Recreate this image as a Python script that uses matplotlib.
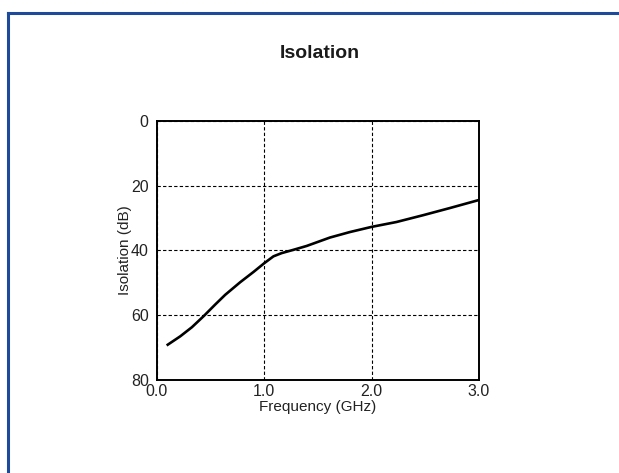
import matplotlib
matplotlib.use('Agg')
import matplotlib.pyplot as plt
from matplotlib.lines import Line2D

# curve
freq_ghz = [0.1, 0.217, 0.325, 0.434, 0.542, 0.635, 0.775, 0.9, 1.0, 1.085, 1.162,
            1.27, 1.394, 1.611, 1.797, 2.0, 2.231, 2.479, 2.727, 3.0]
isolation_db = [69.1, 66.5, 63.7, 60.3, 56.7, 53.7, 49.8, 46.6, 43.9, 41.8, 40.8,
                39.8, 38.6, 36.0, 34.3, 32.7, 31.2, 29.1, 26.9, 24.4]

x_ticks = [0.0, 1.0, 2.0, 3.0]
x_labels = ['0.0', '1.0', '2.0', '3.0']
y_ticks = [0, 20, 40, 60, 80]

plt.rcParams['font.family'] = ['Liberation Sans', 'DejaVu Sans']

W, H = 619, 473
fig = plt.figure(figsize=(W / 100, H / 100), dpi=100)

# blue frame (only top and left edges are visible)
blue = '#1d4a9a'
fig.add_artist(Line2D([7.5 / W, 1.0], [1 - 13.5 / H, 1 - 13.5 / H], color=blue, lw=2.2,
                      transform=fig.transFigure))
fig.add_artist(Line2D([7.5 / W, 7.5 / W], [0.0, 1 - 13.5 / H], color=blue, lw=2.2,
                      transform=fig.transFigure))

fig.text(320 / W, 1 - 54 / H, 'Isolation', ha='center', va='center', fontsize=14,
         fontweight='semibold', color='#1a1a1a')

ax = fig.add_axes([157 / W, 1 - 380 / H, (479 - 157) / W, (380 - 121) / H])
ax.plot(freq_ghz, isolation_db, color='black', lw=1.9)
ax.set_xlim(0, 3)
ax.set_ylim(80, 0)
ax.set_xticks(x_ticks)
ax.set_xticklabels(x_labels)
ax.set_yticks(y_ticks)
ax.tick_params(length=0, labelsize=11.5, colors='#222222')
ax.tick_params(axis='y', pad=6)
ax.tick_params(axis='x', pad=3)
ax.grid(True, color='black', ls=(0, (3, 2)), lw=0.8)
for s in ax.spines.values():
    s.set_linewidth(1.4)
ax.set_xlabel('Frequency (GHz)', fontsize=11, labelpad=0.5, color='#222222')
ax.set_ylabel('Isolation (dB)', fontsize=11, labelpad=-1, color='#222222')

fig.savefig('out.png', dpi=100)
